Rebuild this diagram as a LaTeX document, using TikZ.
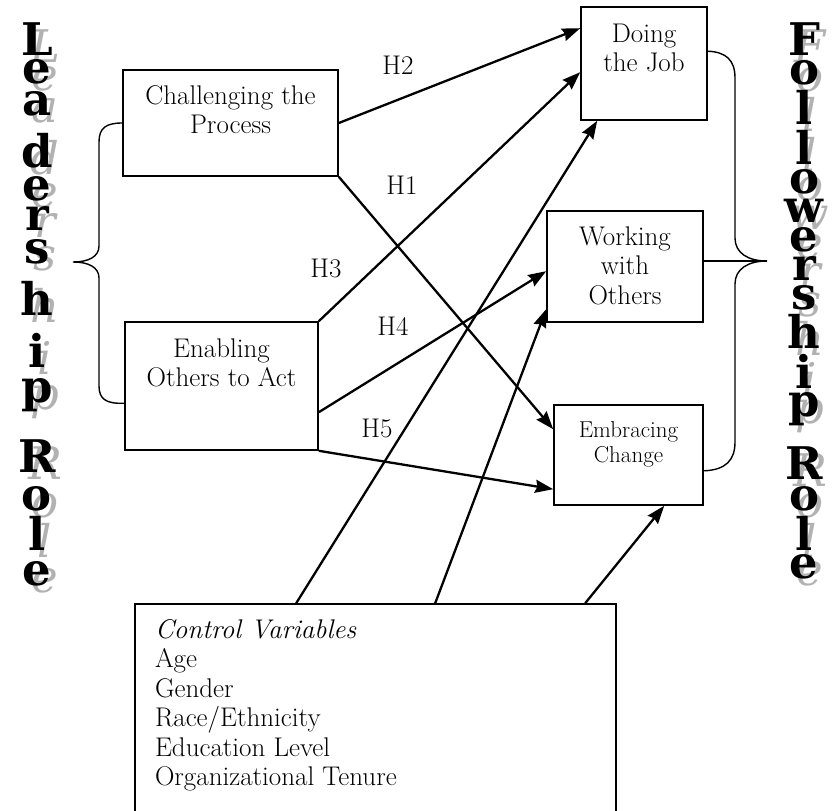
\documentclass[tikz,border=0pt]{standalone}
\usepackage{fontspec}
\newfontfamily\bigfont{DejaVu Serif}
\usetikzlibrary{arrows.meta,calc}
\newcommand\mainsz{\fontsize{27}{29.5}\selectfont}
\newcommand\smallsz{\fontsize{23}{25}\selectfont}
\begin{document}
\begin{tikzpicture}[x=1pt,y=-1pt,
  box/.style={draw, line width=1.6pt, inner sep=0pt, font=\mainsz},
  arr/.style={line width=2.3pt, -{Stealth[length=18pt,width=13pt,inset=2pt]}},
  brace/.style={line width=1.4pt},
  hl/.style={font=\mainsz},
  bigl/.style={font=\bigfont\bfseries\fontsize{45}{45}\selectfont, anchor=base, inner sep=0pt},
  shl/.style={font=\bigfont\itshape\fontsize{45}{45}\selectfont, text=black!30, anchor=base, inner sep=0pt}
]
\useasboundingbox (0,0) rectangle (833,811);
\clip (0,0) rectangle (833,811);

% shadowed vertical titles
\foreach \ch/\yb [count=\i] in {L/55,e/83,a/115,d/167,e/200,r/230,s/263,h/315,i/367,p/402,R/472,o/510,l/550,e/585} {
  \node[shl] (lsh\i) at (37+8,\yb+7) {\ch};
  \node[bigl] (lt\i) at (37,\yb) {\ch};
}
\foreach \ch/\yb [count=\i] in {F/55,o/84,l/124,l/164,o/193,w/222,e/251,r/280,s/309,h/348,i/388,p/416,R/479,o/510,l/550,e/578} {
  \node[shl] (rsh\i) at (804+6,\yb+7) {\ch};
  \node[bigl] (rt\i) at (804,\yb) {\ch};
}

% boxes
\node[box] (chal) at (230.5,123) {\begin{minipage}[c][106pt][t]{215pt}\centering\rule{0pt}{34pt}Challenging the\\Process\end{minipage}};
\node[box] (enab) at (221.5,386) {\begin{minipage}[c][128pt][t]{193pt}\centering\rule{0pt}{35pt}Enabling\\Others to Act\end{minipage}};
\node[box] (job) at (644,63.5) {\begin{minipage}[c][113pt][t]{126pt}\centering\rule{0pt}{35pt}Doing\\the Job\end{minipage}};
\node[box] (work) at (625,266.5) {\begin{minipage}[c][111pt][t]{156pt}\centering\rule{0pt}{34pt}Working\\with\\Others\end{minipage}};
\node[box] (emb) at (628.5,455) {\begin{minipage}[c][100pt][t]{149pt}\smallsz\centering\rule{0pt}{32pt}Embracing\\Change\end{minipage}};
\node[box] (ctrl) at (375.5,734) {\begin{minipage}[c][260pt][t]{481pt}\raggedright\leftskip=20pt\rule{0pt}{34pt}\textit{Control Variables}\\Age\\Gender\\Race/Ethnicity\\Education Level\\Organizational Tenure\end{minipage}};

% hypothesis labels
\node[hl] (h2) at (398,65) {H2};
\node[hl] (h1) at (402,185) {H1};
\node[hl] (h3) at (326,268) {H3};
\node[hl] (h4) at (393,326) {H4};
\node[hl] (h5) at (377,428) {H5};

% arrows
\draw[arr] (chal.east) -- ($(job.north west)+(0,22)$);
\draw[arr] (chal.south east) -- ($(emb.north west)+(0,25)$);
\draw[arr] (enab.north east) -- ($(job.north west)+(0,66)$);
\draw[arr] ($(enab.north east)+(0,91)$) -- ($(work.north west)+(0,61)$);
\draw[arr] (enab.south east) -- ($(emb.north west)+(0,85)$);
\draw[arr] ($(ctrl.north west)+(162,0)$) -- ($(job.south west)+(17,0)$);
\draw[arr] ($(ctrl.north west)+(301,0)$) -- ($(work.north west)+(0,99)$);
\draw[arr] ($(ctrl.north west)+(451,0)$) -- ($(emb.south west)+(111,0)$);

% braces
\coordinate (ltip) at (73,262);
\draw[brace] (chal.west) .. controls (106,123) and (99,128) .. (99,142) -- (99,246)
  .. controls (99,257) and (88,262) .. (ltip)
  .. controls (88,262) and (99,267) .. (99,278) -- (99,386)
  .. controls (99,399) and (106,404) .. ($(enab.north west)+(0,82)$);
\coordinate (rtip) at (767,261);
\draw[brace] ($(job.north east)+(0,45)$) .. controls (726,52) and (735,60) .. (735,78) -- (735,238)
  .. controls (735,253) and (748,261) .. (rtip)
  .. controls (748,261) and (735,269) .. (735,284) -- (735,442)
  .. controls (735,460) and (726,470) .. ($(emb.south east)+(0,-35)$);
\draw[brace] (work.east |- rtip) -- (rtip);
\end{tikzpicture}
\end{document}
